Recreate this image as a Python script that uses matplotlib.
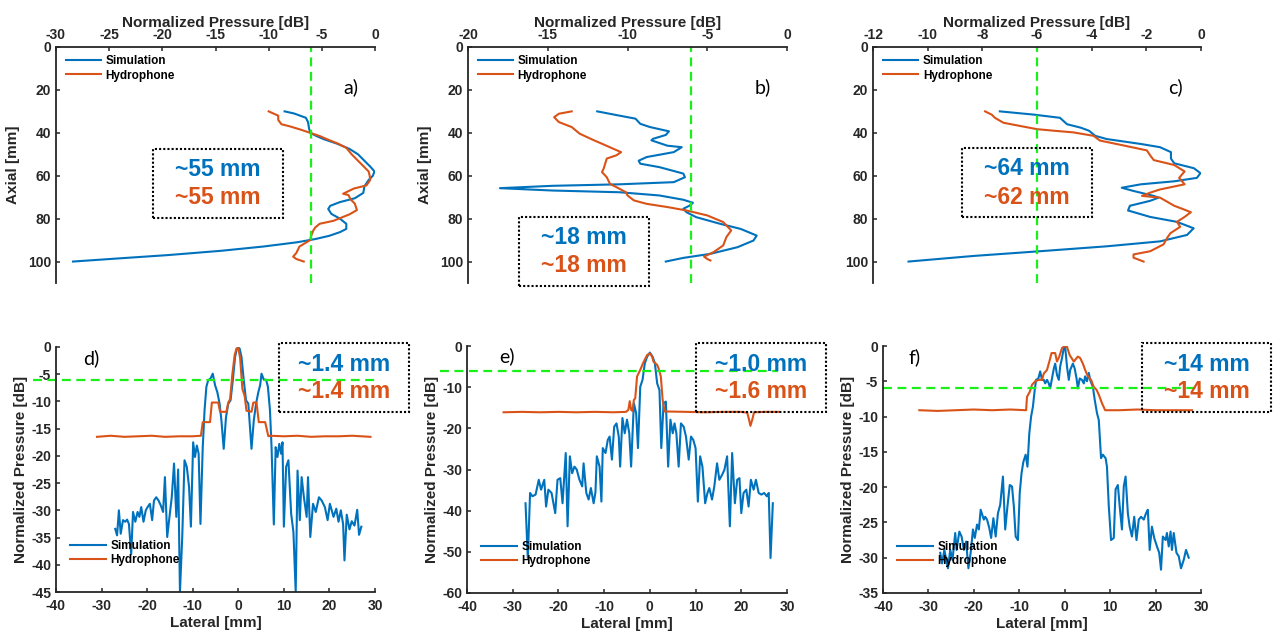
import matplotlib.pyplot as plt
import numpy as np
from matplotlib.patches import Rectangle

plt.rcParams['font.family'] = ['Liberation Sans', 'DejaVu Sans']
plt.rcParams['font.weight'] = 'bold'
plt.rcParams['axes.unicode_minus'] = False

BLUE = '#0072BD'
ORANGE = '#D95319'
GREEN = '#19F019'
DARK = '#262626'

# ---- axial profiles (top row) ----
a_sim_mm = [30, 31, 33, 35, 38, 40, 41.5, 43, 45, 47.5, 50, 53, 56, 58, 60, 62, 65, 68, 70.5,
            72.3, 74, 75.5, 77.8, 80, 82.4, 84.8, 86.3, 88, 89.5, 91, 93, 95, 97, 98.5, 100]
a_sim_db = [-8.5, -7.6, -6.5, -6.3, -6.2, -6.1, -5.5, -4.8, -3.6, -2.4, -1.6, -1.0, -0.4, -0.05,
            -0.2, -0.6, -1.0, -1.1, -1.9, -3.3, -4.2, -4.4, -4.1, -3.3, -2.7, -2.7, -3.3, -4.3,
            -5.6, -7.3, -10.5, -14.5, -19.5, -24, -28.4]
a_hyd_mm = [30, 32, 34, 36, 37, 38.5, 40, 41.5, 43, 45, 47, 50, 52, 54, 56, 58, 60, 62, 64.5, 66,
            68.4, 69, 71, 73, 76, 78, 81, 82.4, 84, 85.5, 88, 90, 93, 96, 97.7, 98.8, 100]
a_hyd_db = [-10.0, -9.1, -9.1, -8.8, -8.0, -7.0, -6.1, -5.2, -4.5, -3.5, -2.7, -2.2, -1.8, -1.4,
            -1.0, -0.6, -0.5, -0.45, -0.8, -2.0, -3.0, -2.5, -2.3, -1.9, -1.7, -2.4, -3.9, -5.2,
            -5.6, -5.8, -6.0, -6.1, -7.1, -7.4, -7.7, -7.4, -6.7]

b_sim_mm = [30, 32, 33.4, 35.8, 37.3, 39.3, 41, 42.8, 43.5, 46, 46.7, 49, 51.3, 53, 54.4, 56, 59,
            60.7, 63, 64, 64.7, 65.8, 66.9, 67.7, 69.2, 71.2, 72.6, 73.9, 75.4, 77, 79.3, 82.4,
            84.8, 87.9, 90.2, 93.3, 96.4, 98.3, 100]
b_sim_db = [-11.9, -10.5, -9.5, -9.2, -8.6, -7.4, -7.6, -8.4, -8.5, -7.5, -6.6, -7.1, -8.8, -9.3,
            -9.2, -8.0, -6.5, -6.4, -7.1, -10.5, -14.7, -18.0, -14.7, -10.5, -8.0, -6.5, -5.9,
            -6.1, -6.5, -6.3, -5.7, -4.2, -2.9, -1.9, -2.1, -3.1, -4.8, -6.5, -7.6]
b_hyd_mm = [30, 31.1, 32.7, 35, 37.3, 40.4, 43.5, 45.1, 47.4, 49, 50.5, 52, 54.4, 56.8, 58.3,
            60.7, 63.8, 65.3, 67.7, 69.2, 71.5, 73.1, 74.6, 76.2, 78.5, 81.6, 85.5, 88.6, 92.5,
            95.6, 97.7, 98.8, 99.5]
b_hyd_db = [-13.5, -14.3, -14.6, -14.3, -13.5, -13.0, -12.1, -11.6, -10.9, -10.4, -10.7, -11.3,
            -11.4, -11.5, -11.6, -11.3, -11.1, -10.7, -10.1, -10.0, -9.6, -8.8, -7.5, -6.3, -5.0,
            -4.0, -3.5, -3.8, -4.0, -4.6, -5.2, -5.0, -4.8]

c_sim_mm = [30, 31.5, 33, 36, 37.6, 39, 41.4, 42.9, 45.2, 46.7, 49, 52, 54.2, 56.5, 58.8, 61,
            62.6, 64, 65.6, 67, 69.4, 70.2, 71.7, 74, 76.2, 79.2, 81.5, 84.5, 87.6, 90.6, 92.9,
            95.2, 97.4, 100]
c_sim_db = [-7.36, -6.13, -5.16, -4.9, -4.4, -4.1, -3.87, -3.45, -2.2, -1.5, -1.1, -1.1, -0.98,
            -0.26, -0.02, -0.15, -0.98, -2.2, -2.9, -2.5, -1.73, -1.55, -1.86, -2.6, -2.67,
            -1.86, -0.88, -0.27, -0.51, -1.5, -3.45, -5.9, -8.33, -10.7]
c_hyd_mm = [30, 31.5, 33, 35.3, 36.8, 38.3, 39, 39.8, 41.4, 43.6, 45.9, 48.2, 50.5, 52.7, 55, 58,
            61, 64, 66.4, 67.9, 69.4, 70.2, 74, 75.5, 77, 79.2, 81.5, 83.8, 86.8, 89, 92, 95.2,
            96.7, 98.2, 100]
c_hyd_db = [-7.9, -7.66, -7.54, -7.23, -6.62, -6.0, -5.4, -4.67, -3.93, -3.7, -2.83, -1.98,
            -1.86, -1.73, -0.98, -0.6, -0.8, -0.6, -1.5, -1.86, -2.16, -1.5, -0.98, -0.67, -0.37,
            -0.6, -0.88, -0.76, -1.12, -1.24, -1.37, -1.86, -2.47, -2.47, -2.1]

# ---- lateral profiles (bottom row) ----
d_sim_x = [-27, -26.6, -26.2, -25.8, -25.3, -24.8, -24.4, -24, -23.5, -23.1, -22.6, -22.1, -21.7,
           -21.3, -20.8, -20.3, -19.9, -19.4, -18.9, -18.5, -18, -17.5, -17, -16.5, -16.1,
           -15.6, -15.1, -14.6, -14.1, -13.6, -13.2, -12.8, -12.3, -11.8, -11.3, -10.8, -10.4,
           -9.9, -9.5, -9.1, -8.7, -8.3, -7.8, -7.4, -7, -6.6, -6.1, -5.6, -5.1, -4.6, -4.1,
           -3.7, -3.2, -2.7, -2.2, -1.7, -1.2, -0.7, -0.3, 0,
           0.3, 0.7, 1.2, 1.7, 2.2, 2.9, 3.4, 3.9, 4.4, 4.8, 5.1, 5.6, 6.1, 6.5, 6.95, 7.3, 7.8,
           8.2, 8.6, 9, 9.4, 9.7, 10, 10.5, 11, 11.6, 12.1, 12.6, 13, 13.5, 13.9, 14.4, 15, 15.3,
           15.8, 16.4, 17, 17.7, 18.3, 19, 19.6, 20.1, 20.9, 21.5, 22, 22.5, 23, 23.3, 23.8,
           24.4, 24.9, 25.5, 26.1, 26.5, 27]
d_sim_db = [-33.4, -34.6, -30, -34.3, -31.8, -32.1, -31.7, -32.5, -38, -30.3, -32.1, -30.3, -31.2,
            -29.4, -32.1, -30, -29.4, -28.8, -31.8, -28.2, -27.6, -28.2, -29.1, -30.3, -23.9,
            -34.9, -31.2, -27.6, -21.4, -31.2, -22.5, -45, -34.9, -20.8, -22, -25.7, -33,
            -17.5, -20.2, -18.1, -19.6, -32.5, -18.4, -11.6, -7.3, -6.1, -5.8, -4.9, -7, -8.3,
            -10.4, -13.5, -18.7, -12.9, -10.4, -9.8, -6.1, -1.8, -0.3, -0.1,
            -0.3, -1.8, -6.1, -9.8, -10.4, -18.7, -13.5, -10.4, -8.3, -7, -4.9, -6, -6, -7.3,
            -11.6, -18.4, -32.6, -18.4, -20.2, -17.8, -19.6, -17.5, -33, -22, -20.8, -30.6, -34,
            -45, -22.7, -31.8, -23.9, -27.6, -31.2, -23.9, -34.9, -28.8, -30.3, -27.6, -28.2,
            -29.4, -31.8, -28.8, -31.2, -29.7, -32.1, -30, -32.5, -39.2, -30.8, -33.5, -32,
            -32.8, -29.9, -34.5, -33]
d_hyd_x = [-31, -28, -25, -22, -19, -16, -13, -10, -8.2, -7.8, -6.2, -5.8, -4.4, -4.0, -2.6,
           -2.2, -1.8, -1.3, -0.8, -0.4, 0, 0.4, 0.9, 1.4, 1.8, 2.9, 3.3, 4.0, 4.5, 5.9, 6.6,
           7, 10, 13, 16, 19, 22, 25, 29]
d_hyd_db = [-16.5, -16.3, -16.5, -16.4, -16.3, -16.5, -16.4, -16.4, -16.3, -13.8, -13.8, -10.2,
            -10.2, -11.9, -11.9, -10.2, -9.6, -5, -1.5, -0.3, -0.2, -2, -7.7, -9.0, -11.7,
            -11.9, -10.2, -10.2, -13.8, -13.8, -16.4, -16.3, -16.4, -16.3, -16.5, -16.4, -16.4,
            -16.3, -16.5]

e_sim_x = [-27.2, -26.7, -26.2, -25.7, -25, -24.3, -23.8, -23.1, -22.7, -22.2, -21.5, -20.7,
           -20.2, -19.6, -19.1, -18.4, -18, -17.5, -17, -16.5, -16, -15.4, -14.8, -14.5, -13.9,
           -13.4, -12.9, -12.3, -11.9, -11.6, -11, -10.6, -10.3, -9.7, -9.2, -8.8, -8.3, -7.8,
           -7.3, -6.8, -6.5, -6, -5.5, -5, -4.5, -4.1, -3.5, -3, -2.6, -2.1, -1.6, -1.1, -0.6, 0,
           0.6, 1.1, 1.6, 2.1, 2.5, 3, 3.5, 4, 4.5, 5, 5.4, 5.8, 6.3, 6.8, 7.4, 7.9, 8.5, 9,
           9.5, 10, 10.5, 11, 11.5, 12.1, 12.6, 13, 13.6, 14.1, 14.7, 15.2, 15.8, 16.3, 16.9,
           17.5, 18, 18.6, 19.1, 19.6, 20, 20.5, 21.1, 21.6, 22.1, 22.7, 23.2, 23.8, 24.4, 25,
           25.6, 26, 26.4, 26.9]
e_sim_db = [-38.2, -51.5, -35.7, -36.5, -36.1, -32.5, -34.9, -32.5, -39, -34.9, -35.7, -40.6,
            -32.5, -32.1, -38.2, -26, -43.8, -26.8, -30.9, -29.3, -30, -32.5, -34.1, -28.5,
            -35.7, -37.3, -34.5, -38.2, -35.5, -26.8, -29.3, -37.8, -24.8, -26, -22.8, -22,
            -27.6, -19.6, -18.8, -22, -29.3, -17.5, -21.2, -17.9, -21.2, -29.3, -13.9, -16.3,
            -24.8, -9.9, -8.2, -4.2, -2.6, -1.6,
            -2.6, -4.2, -9.1, -10.7, -24.8, -13.9, -13.5, -29.3, -17.9, -21.2, -18.8, -21.2,
            -29.3, -18.8, -19.6, -22, -27.6, -22, -22.8, -24.8, -37.8, -26.8, -29.3, -38.2,
            -35.7, -34.5, -37.3, -34.1, -28.5, -32.5, -31.3, -30.1, -26.8, -43.8, -26, -38.2,
            -32.5, -32.1, -40.6, -35.7, -34.9, -39, -32.5, -34.9, -32.5, -35.7, -36.1, -35.7,
            -36.5, -35.7, -51.5, -38.2]
e_hyd_x = [-32, -28, -24, -20, -16, -12, -8, -5.2, -4.7, -4.4, -4.1, -3.8, -3.5, -3.2, -2.8,
           -2.1, -1.5, -0.6, 0, 0.5, 0.8, 1.6, 1.9, 2.4, 2.8, 3.2, 8, 12, 16, 20, 21.3, 21.7,
           22, 22.4, 22.8, 25, 28.2]
e_hyd_db = [-16.1, -16, -16.1, -16, -16.1, -16, -16.1, -16, -15.5, -13.4, -15.5, -15.8, -13.1,
            -12.7, -7.4, -5.8, -4.2, -2.2, -1.8, -2.6, -3.8, -4.6, -5.4, -7.4, -13.1, -15.9,
            -16, -16.1, -16, -16, -16.2, -17.9, -19.4, -17.9, -16.1, -16, -16]

f_sim_x = [-27.4, -27, -26.5, -26, -25.7, -25.2, -24.7, -24.1, -23.8, -23.2, -22.7, -22.2,
           -21.7, -21.2, -20.7, -20.2, -19.8, -19.3, -18.9, -18.5, -17.8, -17.5, -17.1, -16.6,
           -16.2, -15.7, -15.2, -14.7, -14.2, -13.6, -13.1, -12.6, -12.1, -11.6, -11.2, -10.8,
           -10.3, -9.9, -9.5, -9.1, -8.6, -8.2, -7.8, -7.4, -7, -6.6, -6.3, -5.8, -5.4, -5,
           -4.6, -4.3, -3.9, -3.5, -3.2, -2.8, -2.4, -2.1, -1.7, -1.3, -1, -0.6, -0.2, 0.1, 0.5,
           0.9, 1.2, 1.8, 2.2, 2.6, 2.9, 3.3, 3.8, 4.2, 4.5, 4.9, 5.3, 5.6, 6.2, 6.6, 7.1, 7.5,
           8, 8.4, 9, 9.3, 9.7, 10.2, 10.8, 11.2, 11.7, 12.1, 12.6, 13, 13.4, 13.9, 14.3, 14.8,
           15.3, 15.8, 16.3, 16.8, 17.4, 17.9, 18.3, 18.7, 19.2, 19.7, 20.3, 20.8, 21.2, 21.6,
           22.2, 22.5, 22.9, 23.3, 23.6, 24, 24.6, 25.1, 25.6, 26.2, 26.7, 27.3]
f_sim_db = [-29.3, -30.8, -28.9, -30.5, -31.5, -28.9, -30.3, -26.5, -28.9, -26.3, -27, -28.9,
            -27.7, -31.5, -29.3, -26, -27.2, -25.3, -26, -23.2, -24.6, -24.2, -24.6, -25.8,
            -27.2, -24.4, -27, -23.7, -22.5, -18.5, -26, -22.7, -19.7, -19.9, -22.7, -27,
            -27.5, -20.8, -18, -16.4, -15.4, -17.1, -12.4, -10, -8.6, -6.2, -4.8, -4.6, -3.6,
            -4.8, -4.8, -5.3, -4.8, -5.3, -6, -4.6, -3.2, -2.5, -4.1, -4.8, -2.9, -1.7, -0.3,
            -0.1, -2.9, -4.8, -3.4, -2.5, -3.2, -4.6, -6, -4.6, -4.8, -5.3, -4.3, -5, -3.8,
            -4.8, -5.8, -7.6, -9.5, -10.5, -15.9, -15.4, -15.9, -17.1, -22.7, -27.5, -27.2,
            -20.3, -19.7, -22.7, -26, -19.9, -18.5, -23.7, -25.6, -27, -24.2, -27.5, -24.6,
            -24.2, -24.6, -23.7, -23.2, -28.9, -25.6, -27.2, -28.4, -29.3, -31.7, -27, -27.5,
            -26.5, -28.4, -26.3, -28.9, -26.5, -29.3, -29.8, -31.5, -30.3, -28.9, -30]
f_hyd_x = [-32, -28, -24, -20, -16, -12, -8.5, -8.3, -7.7, -7.2, -6.5, -5.7, -5, -4.6, -3.9,
           -3.3, -2.9, -2.1, -1.7, -1.2, -0.6, 0, 0.5, 1.1, 2, 2.9, 3.4, 4, 4.5, 5.1, 5.8, 6.4,
           7, 7.5, 8.2, 8.9, 12, 16, 20, 24, 28]
f_hyd_db = [-9.1, -9.2, -9.1, -9.0, -9.1, -9.0, -9.1, -7.2, -6.5, -5.5, -5, -4.8, -4.8, -3.9,
            -3.4, -2, -1, -1, -2.2, -1.5, -0.3, 0, -0.1, -1.3, -2.2, -1.5, -1.7, -2.5, -3.4,
            -4.3, -4.8, -5.8, -6.2, -6.9, -8.1, -9.1, -9.1, -9.0, -9.1, -9.1, -9.1]

panel_labels = ['a)', 'b)', 'c)', 'd)', 'e)', 'f)']
sim_widths = ['~55 mm', '~18 mm', '~64 mm', '~1.4 mm', '~1.0 mm', '~14 mm']
hyd_widths = ['~55 mm', '~18 mm', '~62 mm', '~1.4 mm', '~1.6 mm', '~14 mm']

W, H = 1279, 635
fig = plt.figure(figsize=(W / 100, H / 100), dpi=100)


def px_axes(left, top, right, bottom):
    return fig.add_axes([left / W, 1 - bottom / H, (right - left) / W, (bottom - top) / H])


def style(ax, keep):
    for side in ['top', 'bottom', 'left', 'right']:
        ax.spines[side].set_visible(side in keep)
        ax.spines[side].set_linewidth(1.3)
        ax.spines[side].set_color(DARK)
    ax.tick_params(direction='in', length=3, width=1.1, labelsize=10, colors=DARK)
    for t in ax.get_xticklabels() + ax.get_yticklabels():
        t.set_fontweight('bold')


def axial_panel(rect, sim_db, sim_mm, hyd_db, hyd_mm, xmin, xstep, label, show_ylabel=True):
    ax = px_axes(*rect)
    ax.plot(sim_db, sim_mm, color=BLUE, lw=1.5, label='Simulation')
    ax.plot(hyd_db, hyd_mm, color=ORANGE, lw=1.5, label='Hydrophone')
    ax.axvline(-6, color=GREEN, lw=1.6, dashes=(4, 2.5))
    ax.set_xlim(xmin, 0)
    ax.set_ylim(110, 0)
    ax.set_xticks(np.arange(xmin, 0.1, xstep))
    ax.set_yticks(range(0, 101, 20))
    ax.xaxis.tick_top()
    ax.xaxis.set_label_position('top')
    style(ax, ['top', 'left'])
    ax.set_xlabel('Normalized Pressure [dB]', fontsize=11, fontweight='bold', color=DARK, labelpad=1)
    if show_ylabel:
        ax.set_ylabel('Axial [mm]', fontsize=11, fontweight='bold', color=DARK, labelpad=6)
    ax.legend(loc='upper left', bbox_to_anchor=(0.015, 0.985), frameon=False, handlelength=3.0,
              handletextpad=0.4, labelspacing=0.2, borderaxespad=0, prop={'size': 8.5, 'weight': 'bold'})
    ax.text(0.9, 0.83, label, transform=ax.transAxes, fontsize=14, family='Lato',
            fontweight='normal', ha='left', va='center', color='black')
    return ax


def lateral_panel(rect, sim_x, sim_db, hyd_x, hyd_db, ymin, ystep, label, green_from, green_to, lab_xy):
    ax = px_axes(*rect)
    ax.plot(sim_x, sim_db, color=BLUE, lw=1.5, label='Simulation')
    ax.plot(hyd_x, hyd_db, color=ORANGE, lw=1.5, label='Hydrophone')
    ax.plot([green_from, green_to], [-6, -6], color=GREEN, lw=1.6, dashes=(4, 2.5), clip_on=False)
    ax.set_xlim(-40, 30)
    ax.set_ylim(ymin, 0)
    ax.set_xticks(range(-40, 31, 10))
    ax.set_yticks(np.arange(ymin, 0.1, ystep))
    style(ax, ['bottom', 'left'])
    ax.tick_params(axis='x', pad=5)
    ax.set_xlabel('Lateral [mm]', fontsize=11, fontweight='bold', color=DARK, labelpad=2)
    ax.set_ylabel('Normalized Pressure [dB]', fontsize=11, fontweight='bold', color=DARK, labelpad=2)
    ax.legend(loc='lower left', bbox_to_anchor=(0.03, 0.085), frameon=False, handlelength=3.0,
              handletextpad=0.4, labelspacing=0.2, borderaxespad=0, prop={'size': 8.5, 'weight': 'bold'})
    ax.text(lab_xy[0], lab_xy[1], label, transform=ax.transAxes, fontsize=14, family='Lato',
            fontweight='normal', ha='left', va='center', color='black')
    return ax


def width_box(x0, y0, x1, y1, sim_txt, hyd_txt):
    fig.add_artist(Rectangle((x0 / W, 1 - y1 / H), (x1 - x0) / W, (y1 - y0) / H,
                             transform=fig.transFigure, fill=False, ec='black', lw=1.5,
                             ls=(0, (1, 1)), zorder=5))
    xc = (x0 + x1) / 2
    fig.text(xc / W, 1 - (y0 + 21) / H, sim_txt, color=BLUE, fontsize=16.5, fontweight='bold',
             ha='center', va='center')
    fig.text(xc / W, 1 - (y0 + 49) / H, hyd_txt, color=ORANGE, fontsize=16.5, fontweight='bold',
             ha='center', va='center')


axial_panel((56, 47, 375, 283), a_sim_db, a_sim_mm, a_hyd_db, a_hyd_mm, -30, 5, panel_labels[0])
axial_panel((468, 47, 787, 283), b_sim_db, b_sim_mm, b_hyd_db, b_hyd_mm, -20, 5, panel_labels[1])
axial_panel((873, 47, 1201, 283), c_sim_db, c_sim_mm, c_hyd_db, c_hyd_mm, -12, 2, panel_labels[2],
            show_ylabel=False)

lateral_panel((56, 347, 375, 592), d_sim_x, d_sim_db, d_hyd_x, d_hyd_db, -45, 5, panel_labels[3],
              -45, 30, (0.085, 0.955))
lateral_panel((467, 346, 787, 593), e_sim_x, e_sim_db, e_hyd_x, e_hyd_db, -60, 10, panel_labels[4],
              -46, 28, (0.1, 0.96))
lateral_panel((883, 346, 1201, 593), f_sim_x, f_sim_db, f_hyd_x, f_hyd_db, -35, 5, panel_labels[5],
              -40, 30, (0.08, 0.955))

width_box(153, 149, 283, 218, sim_widths[0], hyd_widths[0])
width_box(519, 217, 649, 286, sim_widths[1], hyd_widths[1])
width_box(962, 148, 1092, 217, sim_widths[2], hyd_widths[2])
width_box(279, 343, 409, 412, sim_widths[3], hyd_widths[3])
width_box(696, 343, 826, 412, sim_widths[4], hyd_widths[4])
width_box(1142, 343, 1271, 412, sim_widths[5], hyd_widths[5])

fig.savefig('out.png', dpi=100)
